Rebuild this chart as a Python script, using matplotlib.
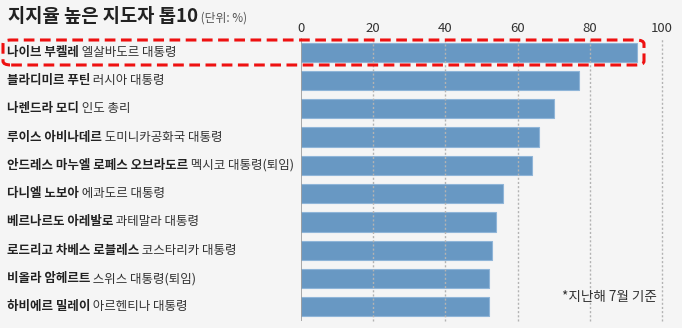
import matplotlib
matplotlib.use("Agg")
import matplotlib.pyplot as plt
import matplotlib.transforms as mtransforms
from matplotlib.patches import FancyBboxPatch

plt.rcParams['font.family'] = ['Noto Sans CJK KR', 'DejaVu Sans']

names = ["나이브 부켈레", "블라디미르 푸틴", "나렌드라 모디", "루이스 아비나데르",
         "안드레스 마누엘 로페스 오브라도르", "다니엘 노보아", "베르나르도 아레발로",
         "로드리고 차베스 로블레스", "비올라 암헤르트", "하비에르 밀레이"]
roles = ["엘살바도르 대통령", "러시아 대통령", "인도 총리", "도미니카공화국 대통령",
         "멕시코 대통령(퇴임)", "에콰도르 대통령", "과테말라 대통령",
         "코스타리카 대통령", "스위스 대통령(퇴임)", "아르헨티나 대통령"]
values = [93, 77, 70, 66, 64, 56, 54, 53, 52, 52]
xticks = [0, 20, 40, 60, 80, 100]

W, H = 682, 328
bg = "#f5f5f5"
fig = plt.figure(figsize=(W / 100, H / 100), dpi=100, facecolor=bg)

ax_left, ax_right = 301 / W, 662 / W
ax_top, ax_bot = 1 - 38 / H, 1 - 321 / H
ax = fig.add_axes([ax_left, ax_bot, ax_right - ax_left, ax_top - ax_bot])
ax.set_facecolor(bg)

ypos = list(range(len(values)))
ax.barh(ypos, values, height=0.68, color="#6898c3", edgecolor="#8fb5d8",
        linewidth=0.8, zorder=2)
ax.set_xlim(0, 100)
ax.set_ylim(9.5, -0.5)

for s in ax.spines.values():
    s.set_visible(False)
for t in xticks[1:]:
    ax.axvline(t, color="#b3b3b3", linestyle=(0, (1.5, 1.5)), linewidth=1.0,
               zorder=3 if t < 100 else 1, clip_on=False)
ax.axvline(0, color="#9a9a9a", linewidth=1.2, zorder=3)

ax.xaxis.tick_top()
ax.set_xticks(xticks)
ax.set_xticklabels([str(t) for t in xticks], fontsize=9.5, color="#333333")
ax.tick_params(axis="x", length=0, pad=2)
ax.set_yticks([])

trans = mtransforms.blended_transform_factory(fig.transFigure, ax.transData)
for i, (n, r) in enumerate(zip(names, roles)):
    t1 = ax.text(7 / W, i, n, transform=trans, fontsize=9.0, fontweight="bold",
                 color="#222222", va="center", ha="left")
    ax.annotate(" " + r, xy=(1, 0), xycoords=t1, fontsize=9.0, color="#333333",
                va="bottom", ha="left")

# title
t = fig.text(8 / W, 1 - 17 / H, "지지율 높은 지도자 톱10", fontsize=13.5,
             fontweight="bold", color="#222222", va="center", ha="left")
ax.annotate(" (단위: %)", xy=(1, 0.12), xycoords=t, fontsize=8.5,
            color="#555555", va="bottom", ha="left", annotation_clip=False)

# footnote
fig.text(657 / W, 1 - 297 / H, "*지난해 7월 기준", fontsize=9.8, color="#333333",
         va="center", ha="right")

# red dashed highlight box
box = FancyBboxPatch((3 / W, 1 - 65 / H), 641 / W, 25 / H,
                     boxstyle="round,pad=0,rounding_size=0.012",
                     transform=fig.transFigure, fill=False,
                     edgecolor="#ee1111", linewidth=2.2,
                     linestyle=(0, (3.5, 1.8)), zorder=10)
fig.patches.append(box)

fig.savefig("out.png", dpi=100, facecolor=bg)
